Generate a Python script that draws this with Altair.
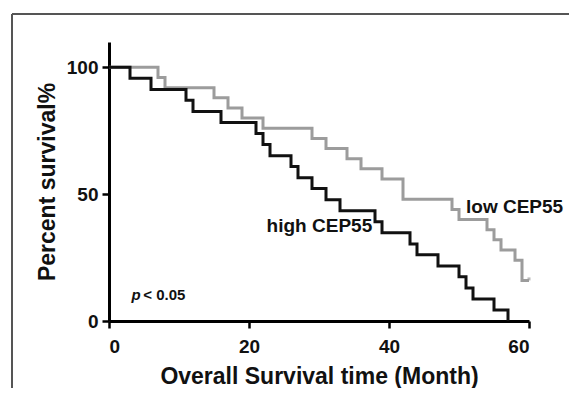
import altair as alt
import pandas as pd

# Kaplan-Meier steps
high_time = [0, 3, 6, 11, 12, 16, 21, 22, 23, 26, 27, 29, 31, 33, 38, 39, 43, 44, 47, 50, 51, 52, 55, 57]
high_surv = [100, 95.7, 91.3, 87.0, 82.6, 78.3, 73.9, 69.6, 65.2, 60.9, 56.5, 52.2, 47.8, 43.5,
             39.1, 34.8, 30.4, 26.1, 21.7, 17.4, 13.0, 8.7, 4.3, 0]
low_time = [0, 7, 8, 15, 17, 19, 22, 29, 31, 34, 36, 39, 42, 49, 50, 54, 55, 56, 58, 59, 60]
low_surv = [100, 96, 92, 88, 84, 80, 76, 72, 68, 64, 60, 56, 48, 44, 40, 36, 32, 28, 24, 16, 16]
censor_time = [60]
censor_surv = [16]

label_text = ["high CEP55", "low CEP55"]
label_x = [37.6, 51.0]
label_y = [37.4, 44.9]
label_pos = ["right", "left"]

x_ticks = [0, 20, 40, 60]
y_ticks = [0, 50, 100]

FONT = "Liberation Sans"

high_df = pd.DataFrame({"time": high_time, "surv": high_surv})
low_df = pd.DataFrame({"time": low_time, "surv": low_surv})
cens_df = pd.DataFrame({"time": censor_time, "surv": censor_surv})

xs = alt.Scale(domain=[0, 60], nice=False)
ys = alt.Scale(domain=[0, 110], nice=False)

X = alt.X("time:Q", scale=xs,
          axis=alt.Axis(values=x_ticks, title="Overall Survival time (Month)", format="d"))
Y = alt.Y("surv:Q", scale=ys,
          axis=alt.Axis(values=y_ticks, title="Percent survival%", format="d"))

low_line = alt.Chart(low_df).mark_line(interpolate="step-after", strokeWidth=3,
                                       color="#9c9c9c", strokeJoin="miter",
                                       strokeCap="butt").encode(x=X, y=Y)
cens = alt.Chart(cens_df).mark_point(shape="M0,0L0,-1", size=36, stroke="#9c9c9c",
                                     strokeWidth=3, filled=False).encode(x="time:Q", y="surv:Q")
high_line = alt.Chart(high_df).mark_line(interpolate="step-after", strokeWidth=3,
                                         color="#111111", strokeJoin="miter",
                                         strokeCap="butt").encode(x=X, y=Y)

lab_df = pd.DataFrame({"text": label_text, "x": label_x, "y": label_y, "pos": label_pos})
lab_high = alt.Chart(lab_df[lab_df["pos"] == "right"]).mark_text(
    align="right", baseline="middle", font=FONT, fontSize=19, fontWeight="bold", color="#111111"
).encode(x="x:Q", y="y:Q", text="text:N")
lab_low = alt.Chart(lab_df[lab_df["pos"] == "left"]).mark_text(
    align="left", baseline="middle", font=FONT, fontSize=19, fontWeight="bold", color="#111111"
).encode(x="x:Q", y="y:Q", text="text:N")

p_df = pd.DataFrame({"t": ["p", "< 0.05"], "x": [3.2, 4.9], "y": [10.2, 10.2],
                     "sty": ["italic", "normal"]})
p_it = alt.Chart(p_df[p_df["sty"] == "italic"]).mark_text(
    align="left", baseline="middle", font=FONT, fontSize=15, fontWeight="bold",
    fontStyle="italic", color="#111111").encode(x="x:Q", y="y:Q", text="t:N")
p_rest = alt.Chart(p_df[p_df["sty"] == "normal"]).mark_text(
    align="left", baseline="middle", font=FONT, fontSize=15, fontWeight="bold",
    color="#111111").encode(x="x:Q", y="y:Q", text="t:N")

frame_left = alt.Chart(pd.DataFrame({"a": [0]})).mark_rule(
    stroke="#555555", strokeWidth=2
).encode(x=alt.value(-97), y=alt.value(-28), y2=alt.value(400))
frame_top = alt.Chart(pd.DataFrame({"a": [0]})).mark_rule(
    stroke="#555555", strokeWidth=2
).encode(x=alt.value(-97), x2=alt.value(500), y=alt.value(-28))

chart = alt.layer(frame_left, frame_top, low_line, cens, high_line,
                  lab_high, lab_low, p_it, p_rest).properties(
    width=420, height=279,
    autosize=alt.AutoSizeParams(type="none"),
    padding={"left": 101, "top": 34, "right": 40, "bottom": 67},
).configure_view(stroke=None).configure_axis(
    grid=False,
    domainColor="#000000", domainWidth=3,
    tickColor="#000000", tickWidth=2.5, tickSize=7,
    labelFont=FONT, labelFontSize=19, labelFontWeight="bold", labelColor="#111111",
    titleFont=FONT, titleFontSize=23, titleFontWeight="bold", titleColor="#111111",
).configure_axisX(labelPadding=9, titlePadding=9).configure_axisY(labelPadding=4, titlePadding=7)

chart.save("out.html", embed_options={"renderer": "svg", "actions": False})
